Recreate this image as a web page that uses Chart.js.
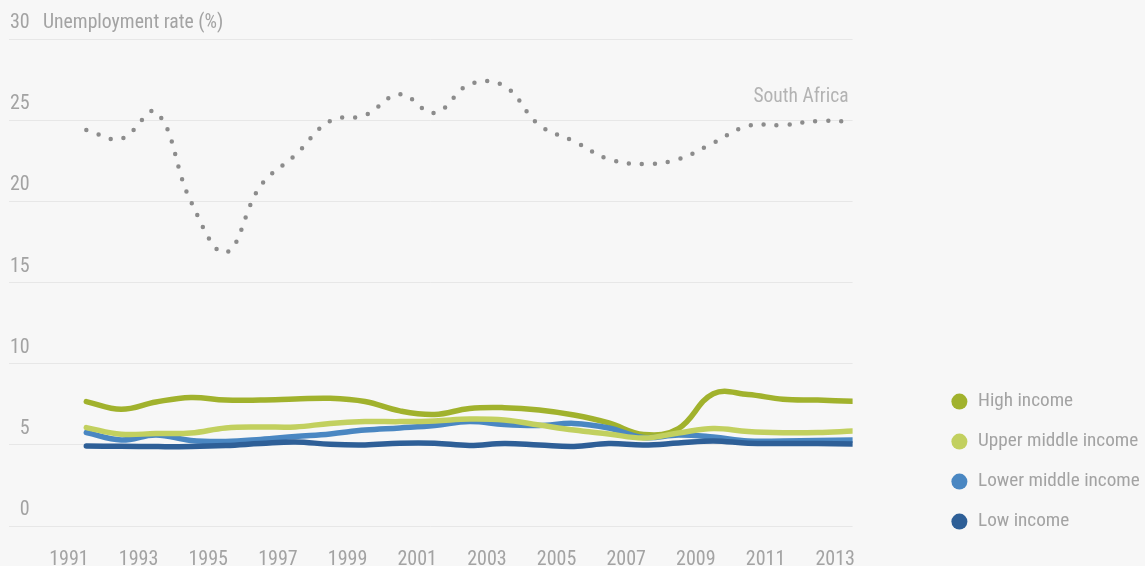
<!DOCTYPE html>
<html>
<head>
<meta charset="utf-8">
<title>Unemployment rate</title>
<script src="https://cdn.jsdelivr.net/npm/chart.js@4.4.1/dist/chart.umd.min.js"></script>
<style>
    html, body { margin: 0; padding: 0; background: #f7f7f7; }
    #wrap { width: 1145px; height: 566px; }
</style>
</head>
<body>
<div id="wrap"><canvas id="lineChart"></canvas></div>
<script>
'use strict';

var years = [1991, 1992, 1993, 1994, 1995, 1996, 1997, 1998, 1999, 2000, 2001, 2002,
    2003, 2004, 2005, 2006, 2007, 2008, 2009, 2010, 2011, 2012, 2013];
var xTicks = [1991, 1993, 1995, 1997, 1999, 2001, 2003, 2005, 2007, 2009, 2011, 2013];

var southAfrica = [24.4, 23.85, 25.5, 20.0, 16.85, 20.95, 22.85, 24.95, 25.3, 26.6, 25.45, 27.2,
    27.1, 24.7, 23.7, 22.6, 22.3, 22.6, 23.6, 24.65, 24.7, 24.95, 24.9];
var highIncome = [7.66, 7.19, 7.64, 7.92, 7.76, 7.76, 7.82, 7.87, 7.67, 7.09, 6.87, 7.24,
    7.29, 7.15, 6.84, 6.35, 5.64, 6.0, 8.15, 8.1, 7.81, 7.76, 7.68];
var upperMiddleIncome = [6.06, 5.65, 5.70, 5.73, 6.04, 6.10, 6.10, 6.32, 6.43, 6.43, 6.47, 6.59,
    6.53, 6.22, 5.91, 5.67, 5.42, 5.73, 6.01, 5.82, 5.75, 5.76, 5.85];
var lowerMiddleIncome = [5.75, 5.30, 5.61, 5.27, 5.21, 5.33, 5.51, 5.67, 5.91, 6.04, 6.19, 6.44,
    6.25, 6.19, 6.32, 6.04, 5.45, 5.61, 5.48, 5.24, 5.24, 5.27, 5.30];
var lowIncome = [4.93, 4.91, 4.89, 4.90, 4.96, 5.08, 5.18, 5.03, 4.99, 5.10, 5.10, 4.96,
    5.08, 4.99, 4.90, 5.08, 4.99, 5.11, 5.24, 5.10, 5.08, 5.08, 5.05];

var legendOrder = ['High income', 'Upper middle income', 'Lower middle income', 'Low income'];

var FONT = "'Roboto Condensed', 'Liberation Sans Narrow', 'DejaVu Sans Condensed', sans-serif";
var TICK_SIZE = 20;
var LEGEND_SIZE = 19.2;
var GREY = '#a3a3a3';

var LEGEND_PADDING = 20.8;
var LEGEND_BOX = 18;
var LEGEND_LEFT = 930;   // where the legend column starts
var PLOT_RIGHT = 853;    // right edge of the plot area

// yearly values are plotted in the middle of their year
function toPoints(values) {
    var points = [];
    for (var i = 0; i < values.length; i++) {
        points[i] = {x: years[i] + 0.5, y: values[i]};
    }
    return points;
}

function incomeDataset(label, values, color) {
    return {
        label: label,
        data: toPoints(values),
        borderColor: color,
        backgroundColor: color,
        borderWidth: 5.5,
        borderCapStyle: 'round',
        pointRadius: 0,
        tension: 0.4,
        fill: false
    };
}

// width chart.js will give the legend, so it can be pinned at LEGEND_LEFT
function measureLegend() {
    var c = document.createElement('canvas').getContext('2d');
    c.font = LEGEND_SIZE + 'px ' + FONT;
    var widest = 0;
    for (var i = 0; i < legendOrder.length; i++) {
        widest = Math.max(widest, c.measureText(legendOrder[i]).width);
    }
    return LEGEND_PADDING + LEGEND_BOX + LEGEND_SIZE + widest;
}

var legendWidth = measureLegend();

var textPlugin = {
    id: 'extraText',
    afterDraw: function (chart) {
        var ctx = chart.ctx;
        var yScale = chart.scales.y;
        ctx.save();
        ctx.textBaseline = 'middle';

        ctx.font = '19.7px ' + FONT;
        ctx.fillStyle = GREY;
        ctx.textAlign = 'left';
        ctx.fillText('Unemployment rate (%)', chart.chartArea.left + 34, yScale.getPixelForValue(30) - 16);

        var meta = chart.getDatasetMeta(0);
        var last = meta.data[meta.data.length - 1];
        ctx.font = '19.5px ' + FONT;
        ctx.fillStyle = '#b3b3b3';
        ctx.textAlign = 'right';
        ctx.fillText('South Africa', last.x - 4, last.y - 25);
        ctx.restore();
    }
};

var ctx = document.getElementById('lineChart').getContext('2d');

new Chart(ctx, {
    type: 'line',
    data: {
        datasets: [
            {
                label: 'South Africa',
                data: toPoints(southAfrica),
                borderColor: '#8c8c8c',
                backgroundColor: '#8c8c8c',
                borderWidth: 4.5,
                borderDash: [0, 13],
                borderCapStyle: 'round',
                pointRadius: 0,
                tension: 0.4,
                fill: false
            },
            incomeDataset('Low income', lowIncome, '#2e5f97'),
            incomeDataset('Upper middle income', upperMiddleIncome, '#c2d05f'),
            incomeDataset('Lower middle income', lowerMiddleIncome, '#4a87c2'),
            incomeDataset('High income', highIncome, '#a1b22d')
        ]
    },
    options: {
        responsive: true,
        maintainAspectRatio: false,
        animation: false,
        layout: {
            padding: {left: 9, top: 39, right: 1145 - LEGEND_LEFT - legendWidth, bottom: 14}
        },
        scales: {
            x: {
                type: 'linear',
                min: 1989.28,
                max: 2013.5,
                grid: {display: false, drawTicks: false},
                border: {display: false},
                afterBuildTicks: function (scale) {
                    scale.ticks = xTicks.map(function (v) { return {value: v}; });
                },
                afterFit: function (scale) {
                    scale.height = 26;
                },
                ticks: {
                    autoSkip: false,
                    maxRotation: 0,
                    // mirrored (and pushed back down) so the labels are not clipped to the short axis box
                    mirror: true,
                    padding: -46,
                    color: GREY,
                    font: {family: FONT, size: TICK_SIZE},
                    callback: function (value) { return String(value); }
                }
            },
            y: {
                min: 0,
                max: 30,
                grid: {color: '#e7e7e7', lineWidth: 1, drawTicks: false},
                border: {display: false},
                afterFit: function (scale) {
                    scale.width = 0;
                },
                ticks: {
                    stepSize: 5,
                    mirror: true,
                    crossAlign: 'far',
                    padding: 1,
                    labelOffset: -16,
                    color: GREY,
                    font: {family: FONT, size: TICK_SIZE}
                }
            },
            spacer: {
                type: 'linear',
                position: 'right',
                display: true,
                grid: {display: false, drawTicks: false},
                border: {display: false},
                ticks: {display: false},
                afterFit: function (scale) {
                    scale.width = LEGEND_LEFT - PLOT_RIGHT;
                }
            }
        },
        plugins: {
            tooltip: {enabled: false},
            legend: {
                position: 'right',
                align: 'end',
                maxWidth: 400,
                labels: {
                    usePointStyle: true,
                    pointStyle: 'circle',
                    boxWidth: LEGEND_BOX,
                    boxHeight: 11.3,
                    padding: LEGEND_PADDING,
                    color: GREY,
                    font: {family: FONT, size: LEGEND_SIZE},
                    generateLabels: function (chart) {
                        var items = Chart.defaults.plugins.legend.labels.generateLabels(chart);
                        for (var i = 0; i < items.length; i++) {
                            items[i].lineWidth = 0;
                        }
                        return items;
                    },
                    filter: function (item) {
                        return item.text !== 'South Africa';
                    },
                    sort: function (a, b) {
                        return legendOrder.indexOf(a.text) - legendOrder.indexOf(b.text);
                    }
                }
            }
        }
    },
    plugins: [textPlugin]
});
</script>
</body>
</html>
